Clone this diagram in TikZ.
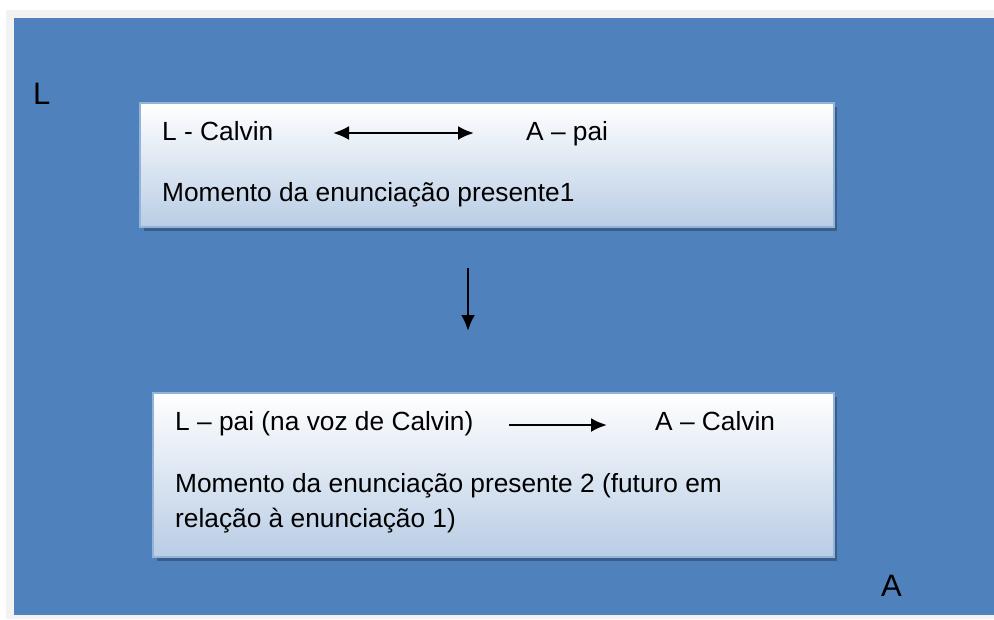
\documentclass[tikz,border=0pt]{standalone}
\usepackage{fontspec}
\setmainfont{Liberation Sans}
\usetikzlibrary{arrows.meta}
\definecolor{bgblue}{RGB}{79,129,189}
\definecolor{paleblue}{RGB}{185,205,229}
\definecolor{rimblue}{RGB}{149,179,215}
\definecolor{shadowblue}{RGB}{58,94,140}
\definecolor{margingray}{RGB}{242,242,242}

\begin{document}
\begin{tikzpicture}[x=1pt,y=-1pt,
    txt/.style={anchor=base west,inner sep=0pt,font=\fontsize{26.3}{31}\selectfont},
    big/.style={anchor=base west,inner sep=0pt,font=\fontsize{31}{37}\selectfont},
    arr/.style={line width=2.4pt,-{Latex[length=16pt,width=14pt]}},
    darr/.style={line width=2.4pt,{Latex[length=16pt,width=14pt]}-{Latex[length=16pt,width=14pt]}}]
        \useasboundingbox (0,0) rectangle (994,619);
        \fill[white] (0,0) rectangle (994,619);
        \fill[margingray] (6,10) rectangle (994,619);
        \fill[bgblue] (14,18) rectangle (994,615);

        \fill[shadowblue] (144,107) rectangle (837,231);
        \shade[top color=white,bottom color=paleblue] (140,103) rectangle (834,227);
        \draw[rimblue,line width=2pt] (140,103) rectangle (834,227);

        \fill[shadowblue] (157,397) rectangle (837,561);
        \shade[top color=white,bottom color=paleblue] (153,393) rectangle (834,557);
        \draw[rimblue,line width=2pt] (153,393) rectangle (834,557);

        \node[big] (lbig) at (33,104) {L};
        \node[big] (abig) at (881,596) {A};

        \node[txt] (lcalvin) at (162,140) {L - Calvin};
        \node[txt] (apai) at (526,140) {A – pai};
        \node[txt] (mom1) at (162,201) {Momento da enunciação presente1};

        \node[txt] (lpai) at (175,430) {L – pai (na voz de Calvin)};
        \node[txt] (acalvin) at (655,430) {A – Calvin};
        \node[txt] (mom2a) at (175,492) {Momento da enunciação presente 2 (futuro em};
        \node[txt] (mom2b) at (175,527) {relação à enunciação 1)};

        \coordinate (d1) at (333,133);
        \coordinate (d2) at (474,133);
        \coordinate (v1) at (468,268);
        \coordinate (v2) at (468,331);
        \coordinate (h1) at (509,425);
        \coordinate (h2) at (607,425);

        \draw[darr] (d1) -- (d2);
        \draw[arr] (v1) -- (v2);
        \draw[arr] (h1) -- (h2);
    \end{tikzpicture}
\end{document}
